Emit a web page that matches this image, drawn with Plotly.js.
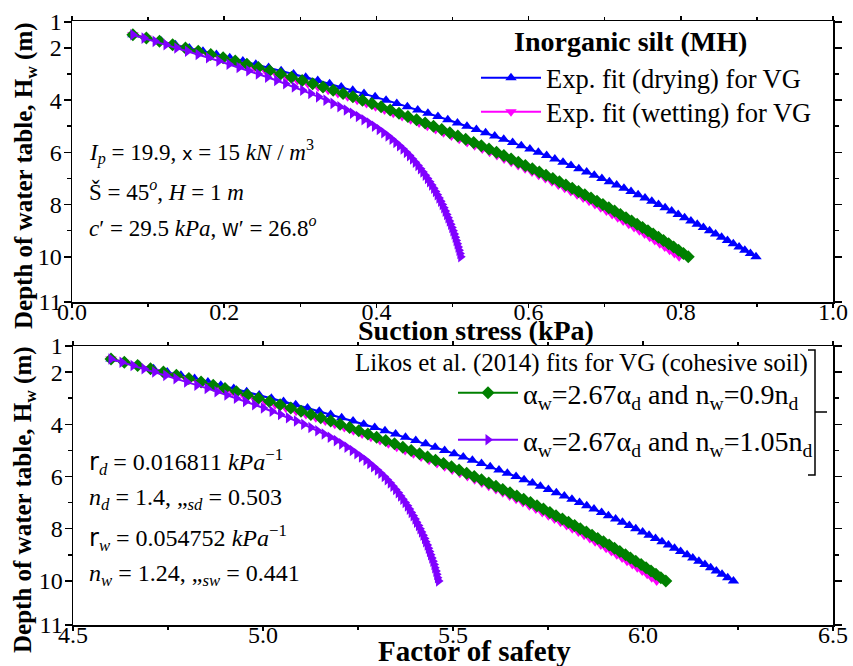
<!DOCTYPE html>
<html>
<head>
<meta charset="utf-8">
<script src="https://cdn.plot.ly/plotly-3.0.1.min.js"></script>
<style>html,body{margin:0;padding:0;background:#fff;}#chart{width:853px;height:666px;}</style>
</head>
<body>
<div id="chart"></div>
<script>
// Depth of water table, Hw (m)
const depth = [1.5,1.625,1.75,1.875,2,2.125,2.25,2.375,2.5,2.625,2.75,2.875,3,3.125,3.25,3.375,3.5,3.625,3.75,3.875,4,4.125,4.25,4.375,4.5,4.625,4.75,4.875,5,5.125,5.25,5.375,5.5,5.625,5.75,5.875,6,6.125,6.25,6.375,6.5,6.625,6.75,6.875,7,7.125,7.25,7.375,7.5,7.625,7.75,7.875,8,8.125,8.25,8.375,8.5,8.625,8.75,8.875,9,9.125,9.25,9.375,9.5,9.625,9.75,9.875,10];

// Suction stress (kPa)
const suctionDrying = [0.0800,0.0989,0.1175,0.1359,0.1541,0.1721,0.1898,0.2073,0.2245,0.2415,0.2583,0.2748,0.2911,0.3071,0.3229,0.3385,0.3538,0.3689,0.3837,0.3983,0.4127,0.4268,0.4407,0.4543,0.4677,0.4809,0.4938,0.5065,0.5190,0.5314,0.5435,0.5555,0.5673,0.5790,0.5904,0.6017,0.6128,0.6237,0.6345,0.6452,0.6557,0.6660,0.6763,0.6863,0.6963,0.7061,0.7157,0.7253,0.7346,0.7439,0.7530,0.7619,0.7707,0.7794,0.7880,0.7966,0.8050,0.8133,0.8216,0.8297,0.8378,0.8457,0.8536,0.8613,0.8690,0.8766,0.8841,0.8915,0.8988];
const suctionWetting = [0.0800,0.0972,0.1140,0.1307,0.1471,0.1634,0.1793,0.1951,0.2105,0.2253,0.2398,0.2541,0.2681,0.2823,0.2961,0.3099,0.3233,0.3366,0.3494,0.3622,0.3747,0.3870,0.3989,0.4107,0.4222,0.4338,0.4450,0.4561,0.4670,0.4778,0.4882,0.4986,0.5088,0.5192,0.5291,0.5391,0.5488,0.5584,0.5678,0.5772,0.5863,0.5954,0.6045,0.6132,0.6220,0.6307,0.6391,0.6474,0.6555,0.6637,0.6717,0.6795,0.6872,0.6948,0.7023,0.7098,0.7171,0.7243,0.7316,0.7386,0.7456,0.7524,0.7592,0.7658,0.7724,0.7789,0.7853,0.7916,0.7978];
const suctionLikos09 = [0.0800,0.0977,0.1150,0.1322,0.1491,0.1659,0.1823,0.1986,0.2145,0.2298,0.2448,0.2596,0.2741,0.2884,0.3024,0.3163,0.3298,0.3432,0.3562,0.3691,0.3817,0.3941,0.4062,0.4181,0.4297,0.4414,0.4528,0.4640,0.4750,0.4859,0.4965,0.5070,0.5173,0.5278,0.5379,0.5480,0.5578,0.5675,0.5770,0.5865,0.5957,0.6049,0.6141,0.6229,0.6318,0.6405,0.6490,0.6574,0.6656,0.6739,0.6820,0.6899,0.6977,0.7054,0.7130,0.7206,0.7280,0.7353,0.7426,0.7497,0.7568,0.7637,0.7706,0.7773,0.7840,0.7906,0.7971,0.8035,0.8098];
const suctionLikos105 = [0.0800,0.0947,0.1092,0.1235,0.1377,0.1518,0.1657,0.1794,0.1930,0.2064,0.2195,0.2323,0.2448,0.2570,0.2690,0.2807,0.2921,0.3031,0.3137,0.3239,0.3337,0.3430,0.3520,0.3605,0.3686,0.3763,0.3837,0.3907,0.3974,0.4037,0.4097,0.4153,0.4206,0.4256,0.4304,0.4350,0.4394,0.4435,0.4474,0.4511,0.4546,0.4579,0.4611,0.4642,0.4671,0.4699,0.4726,0.4752,0.4776,0.4799,0.4822,0.4844,0.4865,0.4885,0.4904,0.4923,0.4941,0.4958,0.4975,0.4991,0.5006,0.5021,0.5035,0.5048,0.5061,0.5073,0.5085,0.5097,0.5108];

// Factor of safety
const fsDrying = [4.600,4.638,4.675,4.712,4.748,4.784,4.820,4.855,4.889,4.923,4.957,4.990,5.022,5.054,5.086,5.117,5.148,5.178,5.207,5.237,5.265,5.294,5.321,5.349,5.375,5.402,5.428,5.453,5.478,5.503,5.527,5.551,5.575,5.598,5.621,5.643,5.666,5.687,5.709,5.730,5.751,5.772,5.793,5.813,5.833,5.852,5.871,5.891,5.909,5.928,5.946,5.964,5.981,5.999,6.016,6.033,6.050,6.067,6.083,6.099,6.116,6.131,6.147,6.163,6.178,6.193,6.208,6.223,6.238];
const fsWetting = [4.600,4.634,4.668,4.701,4.734,4.767,4.799,4.830,4.861,4.891,4.920,4.948,4.976,5.005,5.032,5.060,5.087,5.113,5.139,5.164,5.189,5.214,5.238,5.261,5.284,5.308,5.330,5.352,5.374,5.396,5.416,5.437,5.458,5.478,5.498,5.518,5.538,5.557,5.576,5.594,5.613,5.631,5.649,5.666,5.684,5.701,5.718,5.735,5.751,5.767,5.783,5.799,5.814,5.830,5.845,5.860,5.874,5.889,5.903,5.917,5.931,5.945,5.958,5.972,5.985,5.998,6.011,6.023,6.036];
const fsLikos09 = [4.600,4.635,4.670,4.704,4.738,4.772,4.805,4.837,4.869,4.900,4.930,4.959,4.988,5.017,5.045,5.073,5.100,5.126,5.152,5.178,5.203,5.228,5.252,5.276,5.299,5.323,5.346,5.368,5.390,5.412,5.433,5.454,5.475,5.496,5.516,5.536,5.556,5.575,5.594,5.613,5.631,5.650,5.668,5.686,5.704,5.721,5.738,5.755,5.771,5.788,5.804,5.820,5.835,5.851,5.866,5.881,5.896,5.911,5.925,5.939,5.954,5.967,5.981,5.995,6.008,6.021,6.034,6.047,6.060];
const fsLikos105 = [4.600,4.629,4.658,4.687,4.715,4.744,4.771,4.799,4.826,4.853,4.879,4.905,4.930,4.954,4.978,5.001,5.024,5.046,5.067,5.088,5.107,5.126,5.144,5.161,5.177,5.193,5.207,5.221,5.235,5.247,5.259,5.271,5.281,5.291,5.301,5.310,5.319,5.327,5.335,5.342,5.349,5.356,5.362,5.368,5.374,5.380,5.385,5.390,5.395,5.400,5.404,5.409,5.413,5.417,5.421,5.425,5.428,5.432,5.435,5.438,5.441,5.444,5.447,5.450,5.452,5.455,5.457,5.459,5.462];

// Tick labels
const yTickVals = [1,2,4,6,8,10,11.73];
const yTickText = ['1','2','4','6','8','10','11'];
const y2TickVals = [1,2,4,6,8,10,11.69];
const y2TickText = ['1','2','4','6','8','10','11'];
const yMinorVals = [3,5,7,9];

// Series names
const nameDrying = 'Exp. fit (drying) for VG';
const nameWetting = 'Exp. fit (wetting) for VG';
const nameLikos09 = '\u03b1<sub>w</sub>=2.67\u03b1<sub>d</sub> and n<sub>w</sub>=0.9n<sub>d</sub>';
const nameLikos105 = '\u03b1<sub>w</sub>=2.67\u03b1<sub>d</sub> and n<sub>w</sub>=1.05n<sub>d</sub>';

const SERIF = '"Liberation Serif", "Times New Roman", serif';
const C = {blue:'#0000FF', magenta:'#FF00FF', green:'#008000', purple:'#8000FF'};

function tr(x, y, name, color, symbol, size, xa, ya, legend, show) {
  return {x: x, y: y, name: name, type: 'scatter', mode: 'lines+markers',
    xaxis: xa, yaxis: ya, legend: legend, showlegend: show,
    line: {color: color, width: 2},
    marker: {color: color, symbol: symbol, size: size, line: {width: 0}}};
}

const traces = [
  tr(suctionDrying, depth, nameDrying, C.blue, 'triangle-up', 10, 'x', 'y', 'legend', true),
  tr(suctionWetting, depth, nameWetting, C.magenta, 'triangle-down', 10, 'x', 'y', 'legend3', true),
  tr(suctionLikos09, depth, nameLikos09, C.green, 'diamond', 10, 'x', 'y', 'legend2', false),
  tr(suctionLikos105, depth, nameLikos105, C.purple, 'triangle-right', 10, 'x', 'y', 'legend4', false),
  tr(fsDrying, depth, nameDrying, C.blue, 'triangle-up', 10, 'x2', 'y2', 'legend', false),
  tr(fsWetting, depth, nameWetting, C.magenta, 'triangle-down', 10, 'x2', 'y2', 'legend3', false),
  tr(fsLikos09, depth, nameLikos09, C.green, 'diamond', 10, 'x2', 'y2', 'legend2', true),
  tr(fsLikos105, depth, nameLikos105, C.purple, 'triangle-right', 10, 'x2', 'y2', 'legend4', true)
];

const W = 853, H = 666;
const px = v => v / W;
const py = v => 1 - v / H;

const axisCommon = {
  showline: true, linecolor: '#000', linewidth: 1.5, mirror: 'ticks',
  ticks: 'outside', ticklen: 7, tickwidth: 1.5, tickcolor: '#000',
  showgrid: false, zeroline: false,
  tickfont: {family: SERIF, size: 24, color: '#000'}
};
const minorX = (d) => ({dtick: d, ticks: 'outside', ticklen: 3, tickcolor: '#000', tickwidth: 1.5});
const minorY = {tickmode: 'array', tickvals: yMinorVals, ticks: 'outside', ticklen: 4, tickcolor: '#000', tickwidth: 1.5};

function leg(x, y, size) {
  return {x: px(x), y: py(y), xanchor: 'left', yanchor: 'middle', bgcolor: 'rgba(0,0,0,0)',
    font: {family: SERIF, size: size, color: '#000'}, itemwidth: 60, tracegroupgap: 0};
}

const layout = {
  width: W, height: H,
  margin: {l: 0, r: 0, t: 0, b: 0},
  paper_bgcolor: '#fff', plot_bgcolor: '#fff',
  showlegend: true,
  xaxis: Object.assign({}, axisCommon, {domain: [px(72), px(833)], range: [0, 1], anchor: 'y',
    tick0: 0, dtick: 0.2, tickformat: '.1f', ticklen: 4, ticklabelstandoff: -16, minor: minorX(0.1)}),
  yaxis: Object.assign({}, axisCommon, {domain: [py(302), py(21)], range: [11.73, 0.97], anchor: 'x',
    tickmode: 'array', tickvals: yTickVals, ticktext: yTickText, ticklabelstandoff: -3, minor: minorY}),
  xaxis2: Object.assign({}, axisCommon, {domain: [px(73), px(833)], range: [4.5, 6.5], anchor: 'y2',
    tick0: 4.5, dtick: 0.5, tickformat: '.1f', ticklen: 4, ticklabelstandoff: -16, minor: minorX(0.25)}),
  yaxis2: Object.assign({}, axisCommon, {domain: [py(625), py(346)], range: [11.69, 1.0], anchor: 'x2',
    tickmode: 'array', tickvals: y2TickVals, ticktext: y2TickText, ticklabelstandoff: -3, minor: minorY}),
  legend: leg(476, 78, 26.5),
  legend3: leg(476, 112, 26.5),
  legend2: leg(453, 393, 28),
  legend4: leg(453, 440, 28),
  shapes: [
    {type: 'path', xref: 'paper', yref: 'paper',
     path: 'M' + px(808) + ',' + py(350) + ' L' + px(815) + ',' + py(350) + ' L' + px(815) + ',' + py(475) + ' L' + px(808) + ',' + py(475) +
           ' M' + px(815) + ',' + py(412) + ' L' + px(827) + ',' + py(412),
     line: {color: '#000', width: 1.5}}
  ],
  annotations: []
};

function ann(text, x, y, opts) {
  return Object.assign({text: text, x: px(x), y: py(y), xref: 'paper', yref: 'paper',
    showarrow: false, xanchor: 'center', yanchor: 'middle',
    font: {family: SERIF, size: 23, color: '#000'}}, opts || {});
}
const sans = (t, s) => '<span style="font-family:DejaVu Sans, sans-serif;font-size:' + s + 'px">' + t + '</span>';
const NB = '\u00a0';

layout.annotations.push(
  ann('<b>Depth of water table, H<sub>w</sub> (m)</b>', 25, 176, {textangle: -90, font: {family: SERIF, size: 25, color: '#000'}}),
  ann('<b>Depth of water table, H<sub>w</sub> (m)</b>', 25, 500, {textangle: -90, font: {family: SERIF, size: 25, color: '#000'}}),
  ann('<b>Suction stress (kPa)</b>', 476, 331, {font: {family: SERIF, size: 28, color: '#000'}}),
  ann('<b>Factor of safety</b>', 474, 651, {font: {family: SERIF, size: 29, color: '#000'}}),
  ann('<b>Inorganic silt (MH)</b>', 630, 41, {font: {family: SERIF, size: 28, color: '#000'}}),
  ann('Likos et al. (2014) fits for VG (cohesive soil)', 581, 363, {font: {family: SERIF, size: 25, color: '#000'}}),
  ann('<i>I</i><sub><i>p</i></sub>' + NB + '=' + NB + '19.9,' + NB + sans('x', 18) + NB + '=' + NB + '15' + NB + '<i>kN</i>' + NB + '/' + NB + '<i>m</i><sup>3</sup>', 87, 152, {xanchor: 'left'}),
  ann('\u0160' + NB + '=' + NB + '45<sup><i>o</i></sup>,' + NB + '<i>H</i>' + NB + '=' + NB + '1' + NB + '<i>m</i>', 87, 190, {xanchor: 'left'}),
  ann('<i>c</i>\u2032' + NB + '=' + NB + '29.5' + NB + '<i>kPa</i>,' + NB + sans('W', 17) + '\u2032' + NB + '=' + NB + '26.8<sup><i>o</i></sup>', 87, 227, {xanchor: 'left'}),
  ann(sans('r', 24) + '<sub><i>d</i></sub>' + NB + '=' + NB + '0.016811' + NB + '<i>kPa</i><sup>\u22121</sup>', 87, 462, {xanchor: 'left', font: {family: SERIF, size: 24, color: '#000'}}),
  ann('<i>n</i><sub><i>d</i></sub>' + NB + '=' + NB + '1.4,' + NB + '\u201e<sub><i>sd</i></sub>' + NB + '=' + NB + '0.503', 87, 499, {xanchor: 'left', font: {family: SERIF, size: 24, color: '#000'}}),
  ann(sans('r', 24) + '<sub><i>w</i></sub>' + NB + '=' + NB + '0.054752' + NB + '<i>kPa</i><sup>\u22121</sup>', 87, 538, {xanchor: 'left', font: {family: SERIF, size: 24, color: '#000'}}),
  ann('<i>n</i><sub><i>w</i></sub>' + NB + '=' + NB + '1.24,' + NB + '\u201e<sub><i>sw</i></sub>' + NB + '=' + NB + '0.441', 87, 575, {xanchor: 'left', font: {family: SERIF, size: 24, color: '#000'}})
);

Plotly.newPlot('chart', traces, layout, {displayModeBar: false, staticPlot: true});
</script>
</body>
</html>
